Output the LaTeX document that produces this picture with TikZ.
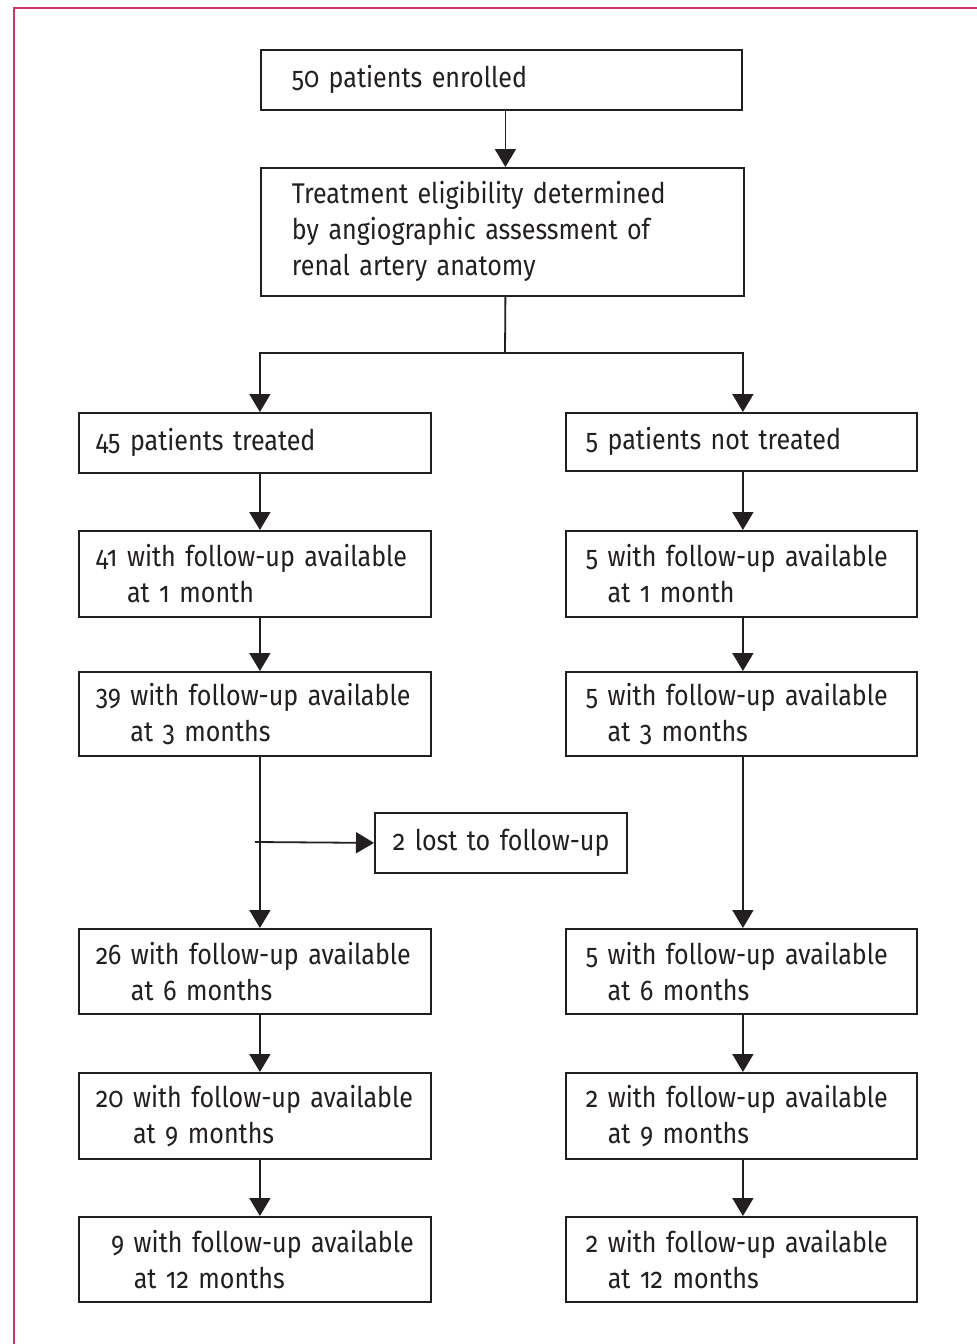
\documentclass[tikz,border=0pt]{standalone}
\usepackage{fontspec}
\setmainfont{Fira Sans}[Numbers=OldStyle, FakeStretch=0.88, WordSpace=0.7]
\usetikzlibrary{arrows.meta}
\definecolor{framecol}{RGB}{204,51,102}
\definecolor{ink}{RGB}{35,31,32}
\newsavebox{\fubox}
\newcommand{\fuline}[3]{\sbox{\fubox}{#1#2\ }#1#2 with follow-up available\\\hspace*{\wd\fubox}at #3}
\begin{document}
\begin{tikzpicture}[x=1pt,y=-1pt,
  box/.style={draw=ink, line width=1.8pt, anchor=north west, align=left,
    inner ysep=0pt, text=ink, font=\fontsize{28.5}{36}\selectfont},
  lbox/.style={box, inner xsep=17pt, text width=318pt},
  rbox/.style={box, inner xsep=20pt, text width=311pt},
  arr/.style={draw=ink, line width=1.8pt, -{Triangle[width=21pt,length=18pt]}},
  ln/.style={draw=ink, line width=1.8pt}]
\useasboundingbox (0,0) rectangle (977,1344);
\draw[framecol, line width=1.8pt] (14,1400) -- (14,8) -- (1100,8);

\node[box, inner xsep=31pt, text width=419pt, minimum height=60pt] (b1) at (260,49) {50 patients enrolled};
\node[box, inner xsep=31pt, text width=421pt, minimum height=128pt] (b2) at (260,167) {Treatment eligibility determined\\by angiographic assessment of\\renal artery anatomy};

\node[lbox, minimum height=60pt] (l1) at (78,412) {45 patients treated};
\node[rbox, minimum height=58pt] (r1) at (565,412) {5 patients not treated};

\node[lbox, minimum height=86pt] (l2) at (78,530) {\fuline{}{41}{1 month}};
\node[rbox, minimum height=86pt] (r2) at (565,530) {\fuline{}{5}{1 month}};
\node[lbox, minimum height=84pt] (l3) at (78,671) {\fuline{}{39}{3 months}};
\node[rbox, minimum height=84pt] (r3) at (565,671) {\fuline{}{5}{3 months}};

\node[box, inner xsep=18pt, text width=216pt, minimum height=60pt] (lost) at (374,812) {\mbox{2 lost to follow-up}};

\node[lbox, minimum height=85pt] (l4) at (78,928) {\fuline{}{26}{6 months}};
\node[rbox, minimum height=85pt] (r4) at (565,928) {\fuline{}{5}{6 months}};
\node[lbox, minimum height=86pt] (l5) at (78,1072) {\fuline{}{20}{9 months}};
\node[rbox, minimum height=86pt] (r5) at (565,1072) {\fuline{}{2}{9 months}};
\node[lbox, minimum height=85pt] (l6) at (78,1216) {\fuline{\hphantom{0}}{9}{12 months}};
\node[rbox, minimum height=85pt] (r6) at (565,1216) {\fuline{}{2}{12 months}};

\draw[arr] ([xshift=4pt]b1.south) -- ([xshift=3pt]b2.north);
\coordinate (split) at (505,353);
\draw[ln] ([xshift=3pt]b2.south) -- (split);
\draw[arr] (split) -| ([xshift=5pt]l1.north);
\draw[arr] (split) -| ([xshift=1.5pt]r1.north);

\draw[arr] ([xshift=5pt]l1.south) -- ([xshift=5pt]l2.north);
\draw[arr] ([xshift=5pt]l2.south) -- ([xshift=5pt]l3.north);
\draw[arr] ([xshift=5pt]l3.south) -- ([xshift=5pt]l4.north);
\draw[arr] ([xshift=5pt]l4.south) -- ([xshift=5pt]l5.north);
\draw[arr] ([xshift=5pt]l5.south) -- ([xshift=5pt]l6.north);

\draw[arr] ([xshift=1.5pt]r1.south) -- ([xshift=1.5pt]r2.north);
\draw[arr] ([xshift=1.5pt]r2.south) -- ([xshift=1.5pt]r3.north);
\draw[arr] ([xshift=1.5pt]r3.south) -- ([xshift=1.5pt]r4.north);
\draw[arr] ([xshift=1.5pt]r4.south) -- ([xshift=1.5pt]r5.north);
\draw[arr] ([xshift=1.5pt]r5.south) -- ([xshift=1.5pt]r6.north);

\coordinate (br) at (255,842);
\draw[arr] (br) -- (lost.west);
\end{tikzpicture}
\end{document}
